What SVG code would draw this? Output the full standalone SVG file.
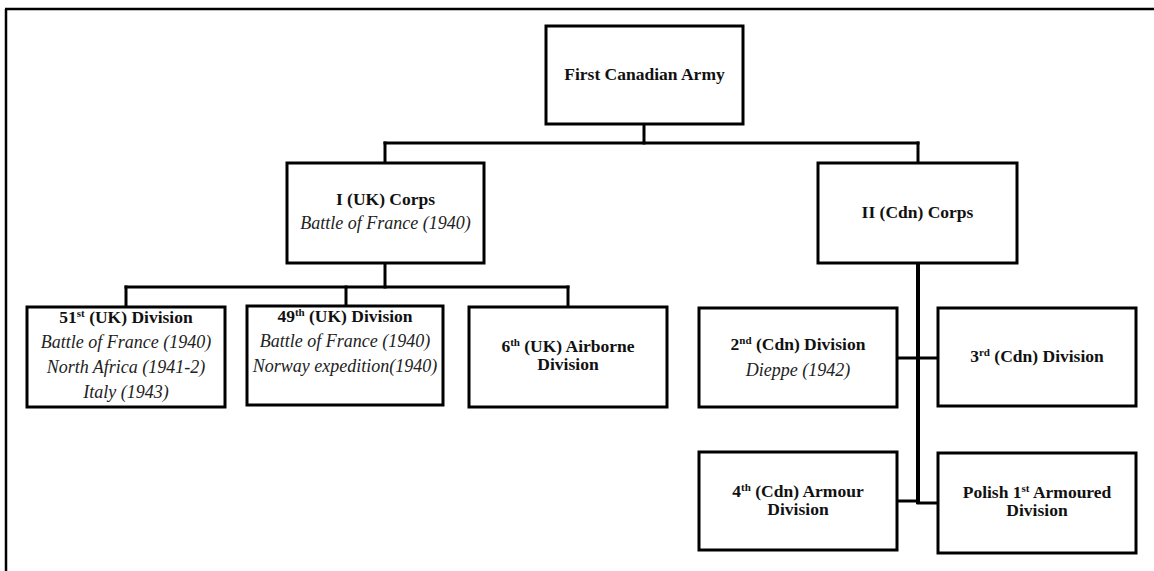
<svg xmlns="http://www.w3.org/2000/svg" width="1154" height="571" viewBox="0 0 1154 571">
<style>
  .box { fill: #fff; stroke: #000; stroke-width: 3; }
  .con { stroke: #000; stroke-width: 3; fill: none; stroke-linecap: square; }
  .frame { stroke: #000; stroke-width: 2.5; fill: none; }
  .b { font-family: "Liberation Serif", "Times New Roman", serif; font-weight: bold; font-size: 17.5px; fill: #111; text-anchor: middle; }
  .i { font-family: "Liberation Serif", "Times New Roman", serif; font-style: italic; font-size: 18px; fill: #222; text-anchor: middle; }
  .sup { font-size: 11px; }
</style>
<rect width="1154" height="571" fill="#fff"/>
<g id="frame">
  <line class="frame" x1="5" y1="9" x2="1154" y2="9"/>
  <line class="frame" x1="6" y1="9" x2="6" y2="571"/>
</g>
<g id="connectors">
  <line class="con" x1="644" y1="124" x2="644" y2="143"/>
  <line class="con" x1="385" y1="143" x2="918" y2="143"/>
  <line class="con" x1="385" y1="143" x2="385" y2="163"/>
  <line class="con" x1="918" y1="143" x2="918" y2="163"/>
  <line class="con" x1="385" y1="263" x2="385" y2="287"/>
  <line class="con" x1="126" y1="287" x2="568" y2="287"/>
  <line class="con" x1="126" y1="287" x2="126" y2="307"/>
  <line class="con" x1="346" y1="287" x2="346" y2="306"/>
  <line class="con" x1="568" y1="287" x2="568" y2="307"/>
  <line class="con" style="stroke-width:4" x1="918" y1="263" x2="918" y2="502"/>
  <line class="con" x1="897" y1="358" x2="938" y2="358"/>
  <line class="con" x1="897" y1="501" x2="918" y2="501"/>
  <line class="con" x1="918" y1="503" x2="938" y2="503"/>
</g>
<g id="first-canadian-army">
  <rect class="box" x="546" y="26" width="197" height="98"/>
  <text class="b" x="644.5" y="80">First Canadian Army</text>
</g>
<g id="i-uk-corps">
  <rect class="box" x="287" y="163" width="197" height="100"/>
  <text class="b" x="385.5" y="205">I (UK) Corps</text>
  <text class="i" x="385.5" y="229">Battle of France (1940)</text>
</g>
<g id="ii-cdn-corps">
  <rect class="box" x="818" y="163" width="199" height="100"/>
  <text class="b" x="917.5" y="218">II (Cdn) Corps</text>
</g>
<g id="div-51">
  <rect class="box" x="27" y="307" width="198" height="100"/>
  <text class="b" x="126" y="323">51<tspan class="sup" baseline-shift="super">st</tspan> (UK) Division</text>
  <text class="i" x="126" y="348">Battle of France (1940)</text>
  <text class="i" x="126" y="373">North Africa (1941-2)</text>
  <text class="i" x="126" y="398">Italy (1943)</text>
</g>
<g id="div-49">
  <rect class="box" x="247" y="306" width="196" height="99"/>
  <text class="b" x="345" y="322">49<tspan class="sup" baseline-shift="super">th</tspan> (UK) Division</text>
  <text class="i" x="345" y="347">Battle of France (1940)</text>
  <text class="i" x="345" y="372">Norway expedition(1940)</text>
</g>
<g id="div-6-airborne">
  <rect class="box" x="469" y="307" width="198" height="100"/>
  <text class="b" x="568" y="352">6<tspan class="sup" baseline-shift="super">th</tspan> (UK) Airborne</text>
  <text class="b" x="568" y="370">Division</text>
</g>
<g id="div-2-cdn">
  <rect class="box" x="699" y="308" width="198" height="99"/>
  <text class="b" x="798" y="350">2<tspan class="sup" baseline-shift="super">nd</tspan> (Cdn) Division</text>
  <text class="i" x="798" y="376">Dieppe (1942)</text>
</g>
<g id="div-3-cdn">
  <rect class="box" x="938" y="308" width="198" height="98"/>
  <text class="b" x="1037" y="362">3<tspan class="sup" baseline-shift="super">rd</tspan> (Cdn) Division</text>
</g>
<g id="div-4-cdn-armour">
  <rect class="box" x="699" y="452" width="198" height="98"/>
  <text class="b" x="798" y="497">4<tspan class="sup" baseline-shift="super">th</tspan> (Cdn) Armour</text>
  <text class="b" x="798" y="515">Division</text>
</g>
<g id="polish-1st-armoured">
  <rect class="box" x="938" y="453" width="198" height="100"/>
  <text class="b" x="1037" y="498">Polish 1<tspan class="sup" baseline-shift="super">st</tspan> Armoured</text>
  <text class="b" x="1037" y="516">Division</text>
</g>
</svg>
